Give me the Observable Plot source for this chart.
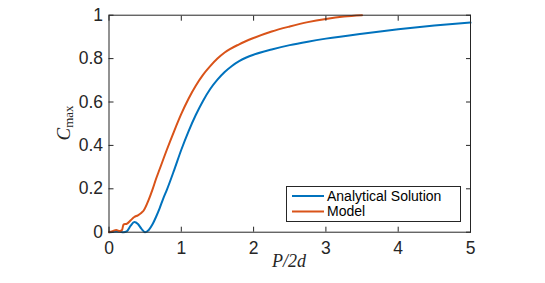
<!DOCTYPE html>
<html>
<head>
<meta charset="utf-8">
<script src="https://cdn.jsdelivr.net/npm/d3@7"></script>
<script src="https://cdn.jsdelivr.net/npm/@observablehq/plot@0.6"></script>
<style>
  html, body { margin: 0; padding: 0; background: #fff; }
  #chart { width: 545px; height: 283px; }
</style>
</head>
<body>
<div id="chart"></div>
<script>
// Analytical solution
const analyticalX = [0, 0.05, 0.1, 0.15, 0.2, 0.25, 0.3, 0.35, 0.4, 0.45, 0.5, 0.55, 0.6, 0.65, 0.7, 0.75, 0.8, 0.9, 1.0, 1.1, 1.2, 1.3, 1.4, 1.5, 1.6, 1.7, 1.8, 1.9, 2.0, 2.25, 2.5, 2.75, 3.0, 3.5, 4.0, 4.5, 5.0];
const analyticalY = [0, 0.001, 0.003, 0.002, 0.0, 0.005, 0.03, 0.047, 0.038, 0.015, 0.0, 0.01, 0.035, 0.07, 0.11, 0.155, 0.195, 0.285, 0.38, 0.465, 0.54, 0.605, 0.66, 0.703, 0.738, 0.766, 0.788, 0.805, 0.818, 0.842, 0.862, 0.878, 0.892, 0.915, 0.935, 0.952, 0.966];
// Model
const modelX = [0, 0.05, 0.1, 0.15, 0.18, 0.2, 0.25, 0.3, 0.35, 0.4, 0.45, 0.48, 0.55, 0.6, 0.65, 0.7, 0.8, 0.9, 1.0, 1.1, 1.2, 1.3, 1.4, 1.5, 1.6, 1.8, 2.0, 2.25, 2.5, 2.75, 3.0, 3.25, 3.5];
const modelY = [0, 0.005, 0.01, 0.005, 0.01, 0.035, 0.04, 0.055, 0.07, 0.078, 0.09, 0.10, 0.15, 0.195, 0.245, 0.29, 0.38, 0.465, 0.545, 0.615, 0.675, 0.725, 0.765, 0.80, 0.828, 0.866, 0.895, 0.925, 0.948, 0.968, 0.983, 0.994, 1.0];

const seriesNames = ["Analytical Solution", "Model"];
const seriesColors = ["#0072BD", "#D95319"];
const xTicks = [0, 1, 2, 3, 4, 5];
const yTicks = [0, 0.2, 0.4, 0.6, 0.8, 1];
const yTickLabels = ["0", "0.2", "0.4", "0.6", "0.8", "1"];

const data = [
  ...analyticalX.map((x, i) => ({x, y: analyticalY[i], s: seriesNames[0]})),
  ...modelX.map((x, i) => ({x, y: modelY[i], s: seriesNames[1]}))
];

const axisColor = "#262626";
const W = 545, H = 283;
const mL = 108.5, mR = 75, mT = 14.7, mB = 51.3;
const sans = "'Liberation Sans', Arial, sans-serif";

const plot = Plot.plot({
  width: W, height: H,
  marginLeft: mL, marginRight: mR, marginTop: mT, marginBottom: mB,
  style: { fontFamily: sans, fontSize: "17.5px", color: axisColor, background: "#fff", overflow: "visible" },
  x: { domain: [0, 5] },
  y: { domain: [0, 1] },
  color: { domain: seriesNames, range: seriesColors },
  marks: [
    Plot.line(data, { x: "x", y: "y", z: "s", stroke: "s", strokeWidth: 2, curve: "monotone-x" }),
    Plot.frame({ stroke: axisColor, strokeWidth: 1 }),
    Plot.axisX(xTicks, { anchor: "bottom", tickSize: 0, tickPadding: 9, fill: axisColor, label: null }),
    Plot.axisX(xTicks, { anchor: "bottom", tickSize: -5, text: null, stroke: axisColor, label: null }),
    Plot.axisX(xTicks, { anchor: "top", tickSize: -5, text: null, stroke: axisColor, label: null }),
    Plot.axisY(yTicks, { anchor: "left", tickSize: 0, tickPadding: 6, fill: axisColor, tickFormat: (d, i) => yTickLabels[i], label: null }),
    Plot.axisY(yTicks, { anchor: "left", tickSize: -5, text: null, stroke: axisColor, label: null }),
    Plot.axisY(yTicks, { anchor: "right", tickSize: -5, text: null, stroke: axisColor, label: null })
  ]
});

document.getElementById("chart").appendChild(plot);

const svg = d3.select(plot);
// enlarge tick labels (MATLAB-like)
svg.selectAll("text").style("font-size", "17.5px").style("font-family", sans);
const serif = "'Liberation Serif', 'DejaVu Serif', serif";

// x label
svg.append("text")
  .attr("x", 289).attr("y", 267)
  .attr("text-anchor", "middle")
  .style("font-family", serif).style("font-size", "18px").style("font-style", "italic")
  .attr("fill", axisColor)
  .text("P/2d");

// y label
const yl = svg.append("text")
  .attr("transform", "translate(70,123) rotate(-90)")
  .attr("text-anchor", "middle")
  .style("font-family", serif).style("font-size", "19px")
  .attr("fill", axisColor);
yl.append("tspan").style("font-style", "italic").text("C");
yl.append("tspan").style("font-size", "13px").attr("dy", 3).text("max");

// legend
const lg = svg.append("g");
lg.append("rect")
  .attr("x", 286.5).attr("y", 186.5).attr("width", 174).attr("height", 35)
  .attr("fill", "#fff").attr("stroke", axisColor).attr("stroke-width", 1);
seriesNames.forEach((name, i) => {
  const yy = 196 + i * 15.5;
  lg.append("line")
    .attr("x1", 292).attr("x2", 324).attr("y1", yy).attr("y2", yy)
    .attr("stroke", seriesColors[i]).attr("stroke-width", 2);
  lg.append("text")
    .attr("x", 327).attr("y", yy).attr("dy", "0.35em")
    .attr("text-anchor", "start")
    .style("font-family", sans).style("font-size", "14px")
    .attr("fill", "#000")
    .text(name);
});
</script>
</body>
</html>
